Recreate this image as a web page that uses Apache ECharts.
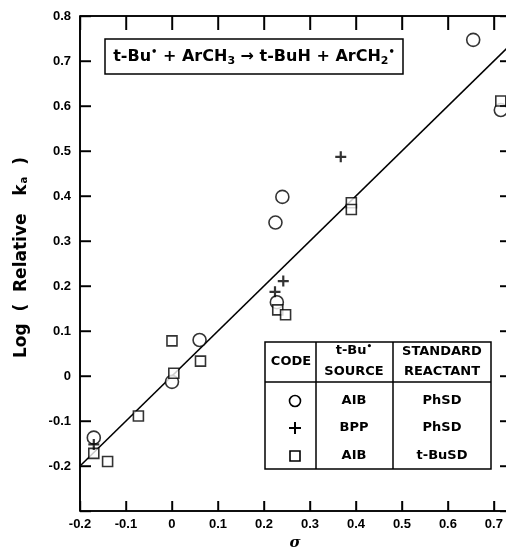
<!DOCTYPE html>
<html>
<head>
<meta charset="utf-8">
<script src="https://cdn.jsdelivr.net/npm/echarts@6/dist/echarts.min.js"></script>
<style>html,body{margin:0;padding:0;background:#fff}#c{width:506px;height:550px}</style>
</head>
<body>
<div id="c"></div>
<script>
// Data
const circleX = [-0.17, 0.0, 0.06, 0.225, 0.24, 0.228, 0.655, 0.715];
const circleY = [-0.137, -0.013, 0.08, 0.341, 0.398, 0.164, 0.747, 0.591];
const plusX = [-0.17, 0.224, 0.242, 0.367];
const plusY = [-0.152, 0.187, 0.211, 0.487];
const squareX = [-0.17, -0.14, -0.073, 0.0, 0.004, 0.062, 0.23, 0.247, 0.39, 0.39, 0.715];
const squareY = [-0.172, -0.19, -0.089, 0.078, 0.006, 0.033, 0.147, 0.136, 0.385, 0.37, 0.611];
const fitX = [-0.2, 0.735];
const fitY = [-0.2, 0.735];
const xTickVals = [-0.1, 0, 0.1, 0.2, 0.3, 0.4, 0.5, 0.6, 0.7];
const yTickVals = [-0.2, -0.1, 0, 0.1, 0.2, 0.3, 0.4, 0.5, 0.6, 0.7];
const legendRows = [
  ['AIB', 'PhSD'],
  ['BPP', 'PhSD'],
  ['AIB', 't-BuSD']
];

const X_MIN = -0.2, X_MAX = 0.735, Y_MIN = -0.3, Y_MAX = 0.8;
const zip = (a, b) => a.map((v, i) => [v, b[i]]);
const F = 'DejaVu Sans, sans-serif';
const FA = 'Liberation Sans, Arial, sans-serif';
const plusPath = 'path://M4,0h2v4h4v2h-4v4h-2v-4h-4v-2h4z';

const chart = echarts.init(document.getElementById('c'), null, {renderer: 'canvas'});
const fmt = v => {
  const r = Math.round(v * 10) / 10;
  if (Math.abs(r) < 1e-9) return '0';
  return r.toFixed(1);
};
const axisLine = {show: true, onZero: false, lineStyle: {color: '#000', width: 1.6}};
const lineEl = (x1, y1, x2, y2, w) => ({type: 'line', z: 11, shape: {x1, y1, x2, y2}, style: {stroke: '#000', lineWidth: w || 1.5}});
const textEl = (x, y, t) => ({type: 'text', x, y, z: 11, style: {text: t, align: 'center', verticalAlign: 'middle', font: 'bold 13px ' + F, fill: '#000'}});

chart.setOption({
  animation: false,
  backgroundColor: '#fff',
  grid: {left: 80, top: 16, right: -4, bottom: 39, containLabel: false, outerBoundsMode: 'none'},
  xAxis: [{
    type: 'value', min: X_MIN, max: X_MAX, interval: 0.1, position: 'bottom',
    axisLine: axisLine,
    axisTick: {show: true, inside: true, length: 10, lineStyle: {color: '#000', width: 1.4}},
    axisLabel: {show: true, formatter: fmt, color: '#000', fontFamily: FA, fontWeight: 'bold', fontSize: 13, margin: 7, showMaxLabel: false},
    splitLine: {show: false},
    name: 'σ', nameLocation: 'middle', nameGap: 24,
    nameTextStyle: {color: '#000', fontFamily: 'DejaVu Serif, serif', fontStyle: 'italic', fontWeight: 'bold', fontSize: 15}
  }, {
    type: 'value', min: X_MIN, max: X_MAX, interval: 0.1, position: 'top',
    axisLine: axisLine,
    axisTick: {show: true, inside: true, length: 14, lineStyle: {color: '#000', width: 1.4}},
    axisLabel: {show: false}, splitLine: {show: false}
  }],
  yAxis: [{
    type: 'value', min: Y_MIN, max: Y_MAX, interval: 0.1, position: 'left',
    axisLine: axisLine,
    axisTick: {show: true, inside: true, length: 11, lineStyle: {color: '#000', width: 1.4}},
    axisLabel: {show: true, color: '#000', fontFamily: FA, fontWeight: 'bold', fontSize: 13, margin: 9,
      formatter: v => (Math.abs(v + 0.3) < 1e-6 ? '' : fmt(v))},
    splitLine: {show: false},
    name: '{t|  Log  (  Relative   k}{s|a}{t|  )}', nameLocation: 'middle', nameGap: 50, nameRotate: 90,
    nameTextStyle: {rich: {
      t: {color: '#000', fontFamily: F, fontWeight: 'bold', fontSize: 17},
      s: {color: '#000', fontFamily: F, fontWeight: 'bold', fontSize: 10, padding: [6, 0, 0, 1]}
    }}
  }, {
    type: 'value', min: Y_MIN, max: Y_MAX, interval: 0.1, position: 'right',
    axisLine: axisLine,
    axisTick: {show: true, inside: true, length: 10, lineStyle: {color: '#000', width: 1.4}},
    axisLabel: {show: false}, splitLine: {show: false}
  }],
  series: [{
    type: 'line', data: zip(fitX, fitY), symbol: 'none', z: 1,
    lineStyle: {color: '#000', width: 1.6}
  }, {
    type: 'scatter', data: zip(circleX, circleY), symbol: 'circle', symbolSize: 13, z: 3,
    itemStyle: {color: '#fff', borderColor: '#000', borderWidth: 1.6}
  }, {
    type: 'scatter', data: zip(squareX, squareY), symbol: 'rect', symbolSize: 10, z: 3,
    itemStyle: {color: '#fff', borderColor: '#000', borderWidth: 1.6}
  }, {
    type: 'scatter', data: zip(plusX, plusY), symbol: plusPath, symbolSize: 11, z: 4,
    itemStyle: {color: '#000'}
  }]
});

// Frame and ticks positioned through the chart's own scales
const px = (x, y) => chart.convertToPixel({xAxisIndex: 0, yAxisIndex: 0}, [x, y]);
const [gl, gb] = px(X_MIN, Y_MIN);
const [gr, gt] = px(X_MAX, Y_MAX);
const frame = [
  lineEl(gl, gt, gr, gt, 1.6),
  lineEl(gl, gb, gr, gb, 1.6),
  lineEl(gl, gt, gl, gb, 1.6),
  lineEl(gr, gt, gr, gb, 1.6)
];
xTickVals.forEach(v => {
  const x = px(v, Y_MIN)[0];
  frame.push(lineEl(x, gb, x, gb - 10, 1.4));
  frame.push(lineEl(x, gt, x, gt + 14, 1.4));
});
yTickVals.forEach(v => {
  const y = px(X_MIN, v)[1];
  frame.push(lineEl(gl, y, gl + 11, y, 1.4));
  frame.push(lineEl(gr, y, gr - 10, y, 1.4));
});

chart.setOption({
  graphic: frame.concat([
    {type: 'rect', shape: {x: 105, y: 39, width: 298, height: 35}, style: {fill: '#fff', stroke: '#000', lineWidth: 1.5}, z: 10},
    {type: 'text', x: 254, y: 57, z: 11, style: {
      text: '{a|t-Bu}{p|•}{a| + ArCH}{b|3}{a| → t-BuH + ArCH}{b|2}{p|•}',
      align: 'center', verticalAlign: 'middle',
      rich: {
        a: {fontFamily: F, fontWeight: 'bold', fontSize: 16, fill: '#000'},
        p: {fontFamily: F, fontWeight: 'bold', fontSize: 10, fill: '#000', padding: [0, 0, 10, 0]},
        b: {fontFamily: F, fontWeight: 'bold', fontSize: 11, fill: '#000', padding: [9, 0, 0, 0]}
      }
    }},
    {type: 'rect', shape: {x: 265, y: 342, width: 226, height: 127}, style: {fill: '#fff', stroke: '#000', lineWidth: 1.5}, z: 10},
    lineEl(316, 342, 316, 469),
    lineEl(393, 342, 393, 469),
    lineEl(265, 382, 491, 382),
    textEl(291, 362, 'CODE'),
    {type: 'text', x: 354, y: 351, z: 11, style: {text: '{a|t-Bu}{p|•}', align: 'center', verticalAlign: 'middle',
      rich: {a: {fontFamily: F, fontWeight: 'bold', fontSize: 13, fill: '#000'}, p: {fontFamily: F, fontWeight: 'bold', fontSize: 9, fill: '#000', padding: [0, 0, 8, 0]}}}},
    textEl(354, 372, 'SOURCE'),
    textEl(442, 352, 'STANDARD'),
    textEl(442, 372, 'REACTANT'),
    {type: 'circle', shape: {cx: 295, cy: 401, r: 5.5}, style: {fill: '#fff', stroke: '#000', lineWidth: 1.6}, z: 11},
    lineEl(289, 428, 301, 428, 2),
    lineEl(295, 422, 295, 434, 2),
    {type: 'rect', shape: {x: 290, y: 451, width: 10, height: 10}, style: {fill: '#fff', stroke: '#000', lineWidth: 1.6}, z: 11}
  ]).concat(legendRows.flatMap((r, i) => {
    const y = [401, 428, 456][i];
    return [textEl(354, y, r[0]), textEl(442, y, r[1])];
  }))
});
</script>
</body>
</html>
